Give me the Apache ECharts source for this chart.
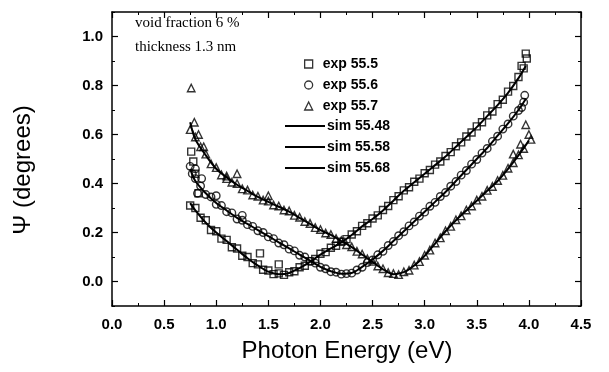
<!DOCTYPE html>
<html><head><meta charset="utf-8">
<script src="https://cdn.jsdelivr.net/npm/echarts@6/dist/echarts.min.js"></script>
<style>html,body{margin:0;padding:0;background:#fff}#c{width:609px;height:372px}</style>
</head><body><div id="c"></div>
<script>
// ---- data ----
const xTicks = [0.0,0.5,1.0,1.5,2.0,2.5,3.0,3.5,4.0,4.5];
const yTicks = [0.0,0.2,0.4,0.6,0.8,1.0];
const seriesNames = ['exp 55.5','exp 55.6','exp 55.7','sim 55.48','sim 55.58','sim 55.68'];
const expE = [0.75,0.80,0.85,0.90,0.95,1.00,1.05,1.10,1.15,1.20,1.25,1.30,1.35,1.40,1.45,1.50,1.55,1.60,1.65,1.70,1.75,1.80,1.85,1.90,1.95,2.00,2.05,2.10,2.15,2.20,2.25,2.30,2.35,2.40,2.45,2.50,2.55,2.60,2.65,2.70,2.75,2.80,2.85,2.90,2.95,3.00,3.05,3.10,3.15,3.20,3.25,3.30,3.35,3.40,3.45,3.50,3.55,3.60,3.65,3.70,3.75,3.80,3.85,3.90,3.95];
const exp555 = [0.31,0.30,0.26,0.25,0.21,0.205,0.175,0.17,0.14,0.135,0.105,0.10,0.075,0.07,0.048,0.045,0.03,0.033,0.027,0.038,0.042,0.058,0.064,0.083,0.092,0.113,0.12,0.138,0.146,0.162,0.173,0.192,0.205,0.227,0.238,0.257,0.27,0.292,0.308,0.332,0.348,0.372,0.385,0.407,0.42,0.442,0.455,0.477,0.49,0.512,0.528,0.552,0.568,0.592,0.608,0.633,0.65,0.678,0.694,0.724,0.742,0.775,0.798,0.835,0.87];
const exp556 = [0.47,0.42,0.39,0.355,0.345,0.315,0.31,0.285,0.28,0.255,0.25,0.232,0.225,0.207,0.20,0.182,0.175,0.157,0.15,0.132,0.125,0.107,0.10,0.082,0.075,0.058,0.052,0.04,0.038,0.03,0.032,0.034,0.047,0.058,0.077,0.088,0.109,0.123,0.147,0.163,0.187,0.203,0.227,0.243,0.267,0.283,0.307,0.323,0.347,0.363,0.389,0.408,0.434,0.453,0.479,0.498,0.524,0.543,0.572,0.593,0.622,0.643,0.675,0.698,0.732];
const exp557 = [0.62,0.59,0.55,0.52,0.48,0.465,0.435,0.43,0.405,0.40,0.378,0.373,0.353,0.348,0.332,0.328,0.312,0.308,0.292,0.288,0.27,0.262,0.245,0.237,0.22,0.212,0.198,0.192,0.175,0.167,0.15,0.142,0.123,0.112,0.093,0.082,0.063,0.052,0.036,0.032,0.028,0.04,0.046,0.067,0.081,0.107,0.128,0.157,0.178,0.207,0.225,0.252,0.268,0.292,0.308,0.332,0.348,0.372,0.388,0.412,0.433,0.462,0.485,0.517,0.543];
// scattered extra experimental points
const extra555E = [0.76,0.78,0.80,0.83,1.42,1.60,3.93,3.97,3.98];
const extra555V = [0.53,0.49,0.44,0.36,0.115,0.07,0.88,0.93,0.91];
const extra556E = [0.77,0.80,0.82,0.86,1.00,1.25,3.93,3.96];
const extra556V = [0.44,0.46,0.36,0.42,0.35,0.27,0.71,0.76];
const extra557E = [0.76,0.79,0.83,0.88,1.10,1.20,1.50,3.85,3.92,3.97,4.00,4.02];
const extra557V = [0.79,0.65,0.60,0.55,0.42,0.44,0.35,0.52,0.56,0.64,0.60,0.58];
const simE = [0.75,0.8,0.9,1.0,1.1,1.2,1.3,1.4,1.5,1.6,1.7,1.8,1.9,2.0,2.1,2.2,2.3,2.4,2.5,2.6,2.7,2.8,2.9,3.0,3.1,3.2,3.3,3.4,3.5,3.6,3.7,3.8,3.9,3.97];
const sim5548 = [0.32,0.29,0.24,0.20,0.165,0.13,0.095,0.065,0.04,0.03,0.035,0.055,0.08,0.11,0.135,0.16,0.19,0.225,0.255,0.29,0.33,0.37,0.405,0.44,0.475,0.51,0.55,0.59,0.63,0.675,0.72,0.77,0.83,0.88];
const sim5558 = [0.46,0.41,0.36,0.32,0.29,0.26,0.235,0.21,0.185,0.16,0.135,0.11,0.085,0.06,0.042,0.032,0.035,0.06,0.09,0.125,0.165,0.205,0.245,0.285,0.325,0.365,0.41,0.455,0.50,0.545,0.595,0.645,0.70,0.745];
const simE3 = [0.75,0.8,0.9,1.0,1.1,1.2,1.3,1.4,1.5,1.6,1.7,1.8,1.9,2.0,2.1,2.2,2.3,2.4,2.5,2.6,2.7,2.8,2.9,3.0,3.1,3.2,3.3,3.4,3.5,3.6,3.7,3.8,3.9,4.0];
const sim5568 = [0.65,0.58,0.515,0.46,0.425,0.395,0.37,0.345,0.325,0.305,0.285,0.26,0.235,0.21,0.19,0.165,0.14,0.11,0.08,0.05,0.03,0.038,0.065,0.105,0.155,0.205,0.25,0.29,0.33,0.37,0.41,0.46,0.515,0.575];
const notes = ['void fraction 6 %','thickness 1.3 nm'];
const xTitle = 'Photon Energy (eV)';
const yTitle = '\u03A8 (degrees)';

// ---- build ----
function pairs(xs, ys){ const n=Math.min(xs.length, ys.length); const o=[]; for(let i=0;i<n;i++) o.push([xs[i], ys[i]]); return o; }
const chart = echarts.init(document.getElementById('c'), null, {renderer:'canvas'});
const FONT = 'Liberation Sans, Arial, sans-serif';
const hollow = {color:'rgba(0,0,0,0)', borderColor:'#000', borderWidth:1.4};
const tickLbl = {fontFamily:FONT, fontSize:15, fontWeight:'bold', color:'#000'};
const axLine = {show:true, onZero:false, lineStyle:{color:'#000', width:1.5}};
const legText = {fontFamily:FONT, fontSize:14, fontWeight:'bold', color:'#000', lineHeight:14};
function scatter(name, data, symbol, size){
  return {name, type:'scatter', xAxisIndex:0, yAxisIndex:0, data, symbol, symbolSize:size, itemStyle:hollow, z:3, silent:true};
}
function line(name, xs, ys){
  return {name, type:'line', xAxisIndex:0, yAxisIndex:0, data:pairs(xs, ys), symbol:'none', smooth:0.3,
    lineStyle:{color:'#000', width:2}, itemStyle:{color:'#000'}, z:4, silent:true};
}
const yBase = {type:'value', min:-0.1, max:1.1, splitLine:{show:false}};
const option = {
  animation:false,
  backgroundColor:'#fff',
  grid:{left:112, right:28, top:12, bottom:66},
  legend:[
    {orient:'vertical', left:304, top:57, padding:0, itemWidth:8, itemHeight:8, itemGap:7,
     textStyle:{...legText, padding:[0,0,0,5]},
     data:[
      {name:seriesNames[0], icon:'rect', itemStyle:{color:'rgba(0,0,0,0)', borderColor:'#000', borderWidth:1.3}},
      {name:seriesNames[1], icon:'circle', itemStyle:{color:'rgba(0,0,0,0)', borderColor:'#000', borderWidth:1.3}},
      {name:seriesNames[2], icon:'triangle', itemStyle:{color:'rgba(0,0,0,0)', borderColor:'#000', borderWidth:1.3}}
     ]},
    {orient:'vertical', left:285, top:119, padding:0, itemWidth:40, itemHeight:2, itemGap:7,
     textStyle:{...legText, padding:[0,0,0,-3]},
     data:[
      {name:seriesNames[3], icon:'rect', itemStyle:{color:'#000'}},
      {name:seriesNames[4], icon:'rect', itemStyle:{color:'#000'}},
      {name:seriesNames[5], icon:'rect', itemStyle:{color:'#000'}}
     ]}
  ],
  xAxis:[
    {type:'value', position:'bottom', min:xTicks[0], max:xTicks[xTicks.length-1], interval:0.5,
     axisLine:axLine, axisTick:{inside:true, length:6, lineStyle:{color:'#000', width:1.2}},
     minorTick:{show:true, splitNumber:2, length:3, lineStyle:{color:'#000', width:1}},
     axisLabel:{...tickLbl, margin:11, formatter:v=>v.toFixed(1)}, splitLine:{show:false}},
    {type:'value', position:'top', min:xTicks[0], max:xTicks[xTicks.length-1], interval:0.5,
     axisLine:axLine, axisTick:{inside:true, length:6, lineStyle:{color:'#000', width:1.2}},
     minorTick:{show:true, splitNumber:2, length:3, lineStyle:{color:'#000', width:1}},
     axisLabel:{show:false}, splitLine:{show:false}}
  ],
  yAxis:[
    {...yBase, position:'left', offset:0,
     axisLine:axLine,
     axisTick:{inside:true, length:6, customValues:yTicks, lineStyle:{color:'#000', width:1.2}},
     axisLabel:{...tickLbl, margin:9, customValues:yTicks, formatter:v=>v.toFixed(1)}},
    {...yBase, position:'left', offset:0, interval:0.1,
     axisLine:{show:false, onZero:false}, axisTick:{inside:true, length:3, lineStyle:{color:'#000', width:1}},
     axisLabel:{show:false}},
    {...yBase, position:'right', offset:0,
     axisLine:axLine,
     axisTick:{inside:true, length:6, customValues:yTicks, lineStyle:{color:'#000', width:1.2}},
     axisLabel:{show:false, customValues:yTicks}},
    {...yBase, position:'right', offset:0, interval:0.1,
     axisLine:{show:false, onZero:false}, axisTick:{inside:true, length:3, lineStyle:{color:'#000', width:1}},
     axisLabel:{show:false}}
  ],
  graphic:[
    {type:'text', left:135, top:16, style:{text:notes[0], font:'15px "Liberation Serif", "Times New Roman", serif', fill:'#000'}},
    {type:'text', left:135, top:40, style:{text:notes[1], font:'15px "Liberation Serif", "Times New Roman", serif', fill:'#000'}},
    {type:'text', x:347, y:351, style:{text:xTitle, font:'24px "Liberation Sans", Arial, sans-serif', fill:'#000', align:'center', verticalAlign:'middle'}},
    {type:'text', x:23, y:170, rotation:Math.PI/2, style:{text:yTitle, font:'24px "Liberation Sans", Arial, sans-serif', fill:'#000', align:'center', verticalAlign:'middle'}}
  ],
  series:[
    scatter(seriesNames[0], pairs(expE, exp555).concat(pairs(extra555E, extra555V)), 'rect', 7),
    scatter(seriesNames[1], pairs(expE, exp556).concat(pairs(extra556E, extra556V)), 'circle', 7.5),
    scatter(seriesNames[2], pairs(expE, exp557).concat(pairs(extra557E, extra557V)), 'triangle', 7.5),
    line(seriesNames[3], simE, sim5548),
    line(seriesNames[4], simE, sim5558),
    line(seriesNames[5], simE3, sim5568)
  ]
};
chart.setOption(option);
</script></body></html>
